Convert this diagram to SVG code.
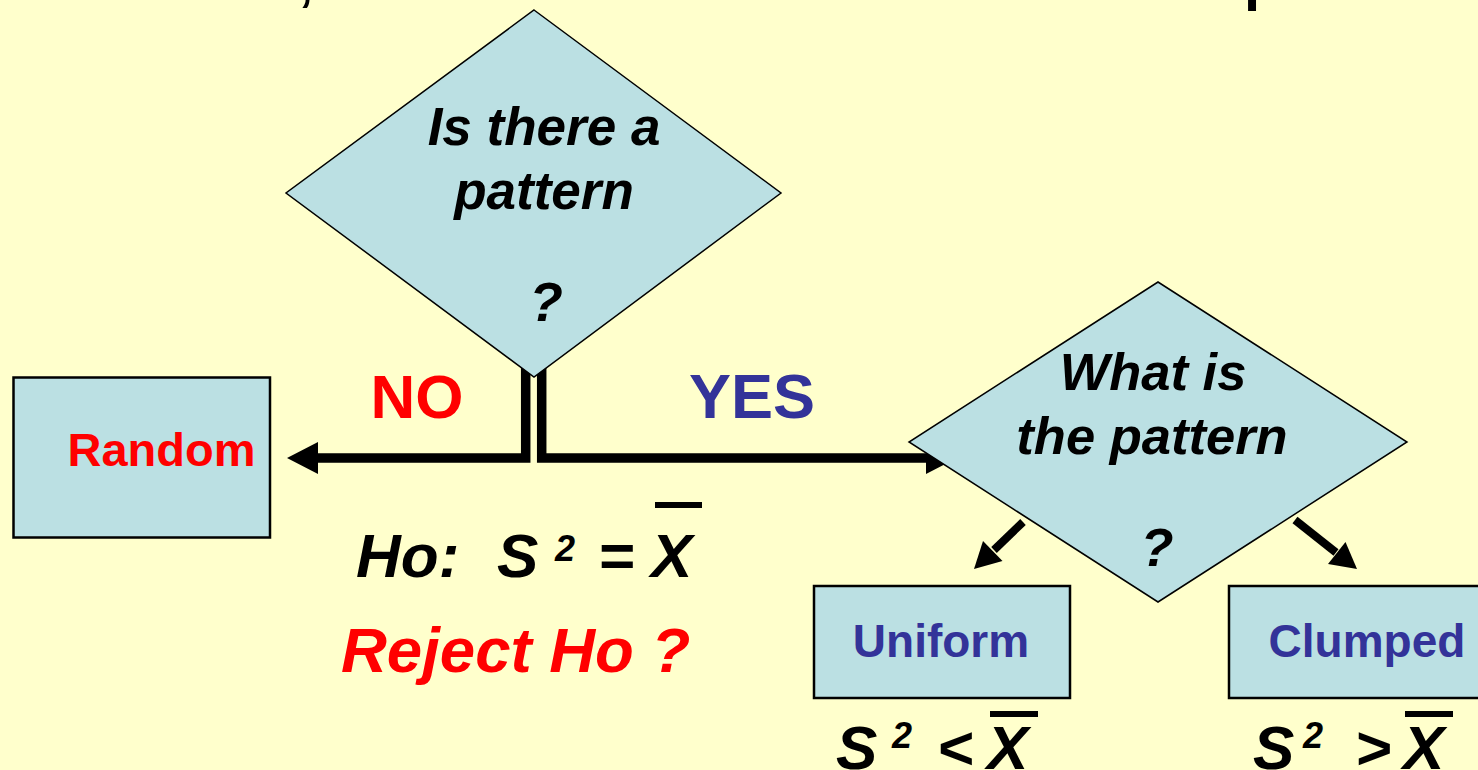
<svg xmlns="http://www.w3.org/2000/svg" width="1478" height="770" viewBox="0 0 1478 770">
<style>
.t{font-family:"Liberation Sans",Arial,sans-serif;font-weight:bold}
.i{font-style:italic}
.blk{fill:#000}
.red{fill:#FF0000}
.blu{fill:#333399}
.dia{fill:#BBE0E3;stroke:#000;stroke-width:1.5}
.box{fill:#BBE0E3;stroke:#000;stroke-width:2.5}
.con{fill:none;stroke:#000;stroke-width:9.5;stroke-linejoin:miter}
.head{fill:#000}
</style>
<rect x="0" y="0" width="1478" height="770" fill="#FFFFCC"/>
<text class="t blk" x="299" y="0" font-size="50">,</text>
<text class="t blk" x="1244" y="-1" font-size="58">p</text>
<g id="connectors">
  <path class="con" d="M525.7,360 V458 H316"/>
  <polygon class="head" points="287,458 318,442 318,474"/>
  <path class="con" d="M541.7,360 V458 H928"/>
  <polygon class="head" points="957,458 926,442 926,474"/>
  <line x1="1023" y1="522" x2="994" y2="550" stroke="#000" stroke-width="8"/>
  <polygon class="head" points="974,569 1002.5,561 983,541"/>
  <line x1="1295" y1="520" x2="1336" y2="552.5" stroke="#000" stroke-width="8"/>
  <polygon class="head" points="1357,569 1328,564 1345.5,542"/>
</g>
<g id="pattern-q">
  <polygon class="dia" points="534,10 781,193 534,377 286,193"/>
  <text class="t i blk" x="544" y="145" font-size="53" text-anchor="middle">Is there a</text>
  <text class="t i blk" x="544" y="209" font-size="53" text-anchor="middle">pattern</text>
  <text class="t i blk" x="546" y="321" font-size="55" text-anchor="middle">?</text>
</g>
<g id="what-q">
  <polygon class="dia" points="1158,282 1407,442 1158,602 909,442"/>
  <text class="t i blk" x="1153" y="390" font-size="52.5" text-anchor="middle">What is</text>
  <text class="t i blk" x="1152" y="454" font-size="52.5" text-anchor="middle">the pattern</text>
  <text class="t i blk" x="1157" y="566" font-size="54" text-anchor="middle">?</text>
</g>
<g id="random">
  <rect class="box" x="13.5" y="377.5" width="256.5" height="160"/>
  <text class="t red" x="161.5" y="466" font-size="47" text-anchor="middle">Random</text>
</g>
<g id="uniform">
  <rect class="box" x="814" y="586" width="256" height="112"/>
  <text class="t blu" x="941" y="657" font-size="46" text-anchor="middle">Uniform</text>
</g>
<g id="clumped">
  <rect class="box" x="1229" y="586" width="262" height="112"/>
  <text class="t blu" x="1367" y="657" font-size="46" text-anchor="middle">Clumped</text>
</g>
<g id="labels">
  <text class="t red" x="417" y="418" font-size="62" text-anchor="middle">NO</text>
  <text class="t blu" x="752" y="418" font-size="63" text-anchor="middle">YES</text>
  <text class="t i blk" x="356" y="577" font-size="62">Ho:</text>
  <text class="t i blk" x="497" y="577" font-size="62">S</text>
  <text class="t i blk" x="555" y="561" font-size="36">2</text>
  <text class="t i blk" x="598" y="577" font-size="62">=</text>
  <text class="t i blk" x="651" y="577" font-size="62">X</text>
  <rect x="655" y="502" width="47" height="6" fill="#000"/>
  <text class="t i red" x="341" y="672" font-size="63.5">Reject Ho ?</text>
  <text class="t i blk" x="836" y="769" font-size="62">S</text>
  <text class="t i blk" x="892" y="748" font-size="36">2</text>
  <text class="t i blk" x="937" y="769" font-size="62">&lt;</text>
  <text class="t i blk" x="987" y="769" font-size="62">X</text>
  <rect x="990" y="711" width="48" height="6" fill="#000"/>
  <text class="t i blk" x="1253" y="769" font-size="62">S</text>
  <text class="t i blk" x="1303" y="748" font-size="36">2</text>
  <text class="t i blk" x="1355" y="769" font-size="62">&gt;</text>
  <text class="t i blk" x="1403" y="769" font-size="62">X</text>
  <rect x="1405" y="711" width="48" height="6" fill="#000"/>
</g>
</svg>
